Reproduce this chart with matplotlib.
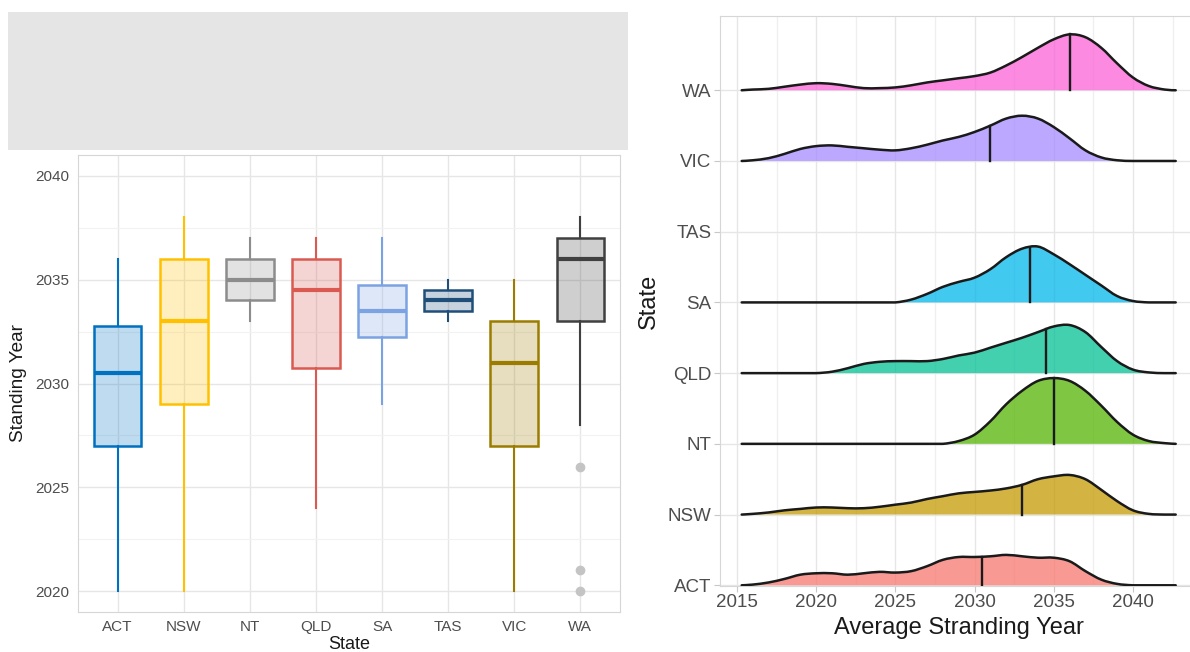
import numpy as np
import matplotlib
matplotlib.use('Agg')
import matplotlib.pyplot as plt
from matplotlib.patches import Rectangle, PathPatch
from matplotlib.path import Path
from matplotlib.colors import to_rgba

plt.rcParams['font.family'] = ['Liberation Sans', 'DejaVu Sans']

W, H = 1190, 652

# ---- left panel: box plot of stranding year by state
states = ['ACT', 'NSW', 'NT', 'QLD', 'SA', 'TAS', 'VIC', 'WA']
box_low = [2020, 2020, 2033, 2024, 2029, 2033, 2020, 2028]
box_q1 = [2027, 2029, 2034, 2030.75, 2032.25, 2033.5, 2027, 2033]
box_med = [2030.5, 2033, 2035, 2034.5, 2033.5, 2034, 2031, 2036]
box_q3 = [2032.75, 2036, 2036, 2036, 2034.75, 2034.5, 2033, 2037]
box_high = [2036, 2038, 2037, 2037, 2037, 2035, 2035, 2038]
box_outliers = [[], [], [], [], [], [], [], [2026, 2021, 2020]]
box_colors = ['#0070C0', '#FFC000', '#8C8C8C', '#DA5A52',
              '#7BA3E3', '#1F4E79', '#9C7C00', '#404040']

# ---- right panel: ridgeline densities (heights in % of row spacing)
years = [2015.3, 2016, 2017, 2018, 2019, 2020, 2021, 2022, 2023, 2024,
         2025, 2026, 2027, 2028, 2029, 2030, 2031, 2032, 2033, 2034,
         2035, 2036, 2037, 2038, 2039, 2040, 2041, 2042, 2042.7]
dens_act = [0, 1, 4, 9, 15, 17, 17, 15, 17, 19, 18, 20, 27, 36, 40, 40,
            41, 43, 41, 39, 39, 34, 20, 8, 2, 0, 0, 0, 0]
dens_nsw = [0, 1, 3, 6, 8, 10, 10, 9, 9, 11, 14, 17, 22, 26, 30, 32,
            34, 37, 42, 50, 54, 56, 50, 35, 19, 6, 1, 0, 0]
dens_nt = [0, 0, 0, 0, 0, 0, 0, 0, 0, 0, 0, 0, 0, 0, 4, 13,
           32, 56, 75, 89, 93, 89, 75, 54, 31, 13, 4, 1, 0]
dens_qld = [0, 0, 0, 0, 0, 0, 2, 7, 13, 16, 17, 17, 17, 20, 25, 29,
            36, 43, 50, 58, 66, 68, 58, 37, 17, 5, 1, 0, 0]
dens_sa = [0, 0, 0, 0, 0, 0, 0, 0, 0, 0, 0, 4, 12, 22, 29, 35,
           47, 64, 76, 79, 68, 54, 39, 24, 9, 2, 0, 0, 0]
dens_vic = [0, 1, 4, 10, 17, 21, 22, 20, 18, 16, 15, 18, 23, 29, 34, 41,
            50, 60, 64, 60, 48, 32, 15, 5, 1, 0, 0, 0, 0]
dens_wa = [0, 1, 2, 5, 8, 10, 9, 6, 3, 3, 4, 7, 11, 14, 17, 20,
           25, 35, 47, 60, 72, 79, 75, 60, 38, 18, 6, 1, 0]
ridge_medians = [2030.5, 2033, 2035, 2034.5, 2033.5, None, 2031, 2036]
ridge_colors = ['#F8766D', '#C49A00', '#53B400', '#00C094',
                '#00B6EB', None, '#A58AFF', '#FB61D7']


def smooth_path(xs, ys, base):
    # cubic bezier through the read points (catmull-rom style handles)
    n = len(xs)
    verts = [(xs[0], ys[0])]
    codes = [Path.MOVETO]
    for i in range(n - 1):
        xa, ya = xs[max(i - 1, 0)], ys[max(i - 1, 0)]
        xb, yb = xs[i], ys[i]
        xc, yc = xs[i + 1], ys[i + 1]
        xd, yd = xs[min(i + 2, n - 1)], ys[min(i + 2, n - 1)]
        c1 = (xb + (xc - xa) / 6, max(yb + (yc - ya) / 6, base))
        c2 = (xc - (xd - xb) / 6, max(yc - (yd - yb) / 6, base))
        verts += [c1, c2, (xc, yc)]
        codes += [Path.CURVE4] * 3
    return verts, codes


fig = plt.figure(figsize=(W / 100, H / 100), dpi=100)

# grey header block above the box plot
fig.add_artist(Rectangle((8 / W, (H - 150) / H), 620 / W, 138 / H,
                         transform=fig.transFigure, color='#E5E5E5', lw=0))

# ---------- left: boxplot
ax1 = fig.add_axes([78 / W, (H - 612) / H, 542 / W, 457 / H])
pos = np.arange(1, len(states) + 1)
stats = []
for i in range(len(states)):
    stats.append(dict(med=box_med[i], q1=box_q1[i], q3=box_q3[i],
                      whislo=box_low[i], whishi=box_high[i],
                      fliers=box_outliers[i]))
bp = ax1.bxp(stats, positions=pos, widths=0.72, patch_artist=True,
             showcaps=False,
             flierprops=dict(marker='o', markersize=6, markerfacecolor='#C4C4C4',
                             markeredgecolor='#C4C4C4'))
for i, c in enumerate(box_colors):
    bp['boxes'][i].set_facecolor(to_rgba(c, 0.25))
    bp['boxes'][i].set_edgecolor(c)
    bp['boxes'][i].set_linewidth(1.8)
    bp['medians'][i].set_color(c)
    bp['medians'][i].set_linewidth(3)
    for w in bp['whiskers'][2 * i:2 * i + 2]:
        w.set_color(c)
        w.set_linewidth(1.5)
    bp['boxes'][i].set_zorder(3)
    bp['medians'][i].set_zorder(4)

ax1.set_xlim(0.4, 8.6)
ax1.set_ylim(2019, 2041)
ax1.set_xticks(pos)
ax1.set_xticklabels(states)
ax1.set_yticks([2020, 2025, 2030, 2035, 2040])
ax1.set_yticks([2022.5, 2027.5, 2032.5, 2037.5], minor=True)
ax1.grid(True, which='major', color='#E6E6E6', lw=1.0)
ax1.grid(True, which='minor', axis='y', color='#F2F2F2', lw=0.8)
ax1.set_axisbelow(True)
for s in ax1.spines.values():
    s.set_color('#D6D6D6')
ax1.tick_params(which='both', length=0, labelsize=11, labelcolor='#4D4D4D', pad=6)
ax1.set_ylabel('Standing Year', fontsize=13.7, color='#1A1A1A', labelpad=6)
ax1.set_xlabel('State', fontsize=13, color='#1A1A1A', labelpad=1)

# ---------- right: ridgeline
x0, x1 = 2013.93, 2044.1
ax2 = fig.add_axes([720 / W, (H - 586) / H, (x1 - x0) * 15.84 / W, 570 / H])
dens_rows = [dens_act, dens_nsw, dens_nt, dens_qld, dens_sa, None, dens_vic, dens_wa]
for i, dens in enumerate(dens_rows):
    if dens is None:
        continue
    base = i + 1
    top = base + np.array(dens) / 100.0
    z = 20 - 2 * i
    verts, codes = smooth_path(years, top, base)
    fill_verts = verts + [(years[-1], base), (years[0], base), (years[0], base)]
    fill_codes = codes + [Path.LINETO, Path.LINETO, Path.CLOSEPOLY]
    ax2.add_patch(PathPatch(Path(fill_verts, fill_codes),
                            facecolor=to_rgba(ridge_colors[i], 0.74),
                            lw=0, zorder=z))
    ax2.add_patch(PathPatch(Path(verts, codes), fill=False,
                            edgecolor='#1A1A1A', lw=1.8, zorder=z + 1,
                            capstyle='round', joinstyle='round'))
    m = ridge_medians[i]
    ax2.plot([m, m], [base, np.interp(m, years, top)], color='#1A1A1A',
             lw=1.7, zorder=z + 1)

ax2.set_xlim(x0, x1)
ax2.set_ylim(0.99, 9.05)
ax2.set_xticks([2015, 2020, 2025, 2030, 2035, 2040])
ax2.set_xticks([2017.5, 2022.5, 2027.5, 2032.5, 2037.5, 2042.5], minor=True)
ax2.set_yticks(pos)
ax2.set_yticklabels(states)
ax2.grid(True, which='major', color='#E6E6E6', lw=1.0)
ax2.grid(True, which='minor', axis='x', color='#EFEFEF', lw=0.9)
ax2.set_axisbelow(True)
for s in ax2.spines.values():
    s.set_color('#D6D6D6')
ax2.tick_params(which='major', length=4, color='#C8C8C8', labelsize=13.5,
                labelcolor='#4D4D4D', pad=2)
ax2.tick_params(which='minor', length=0)
ax2.set_xlabel('Average Stranding Year', fontsize=17, color='#1A1A1A', labelpad=4)
ax2.set_ylabel('State', fontsize=17, color='#1A1A1A', labelpad=6)

fig.savefig('out.png', dpi=100)
